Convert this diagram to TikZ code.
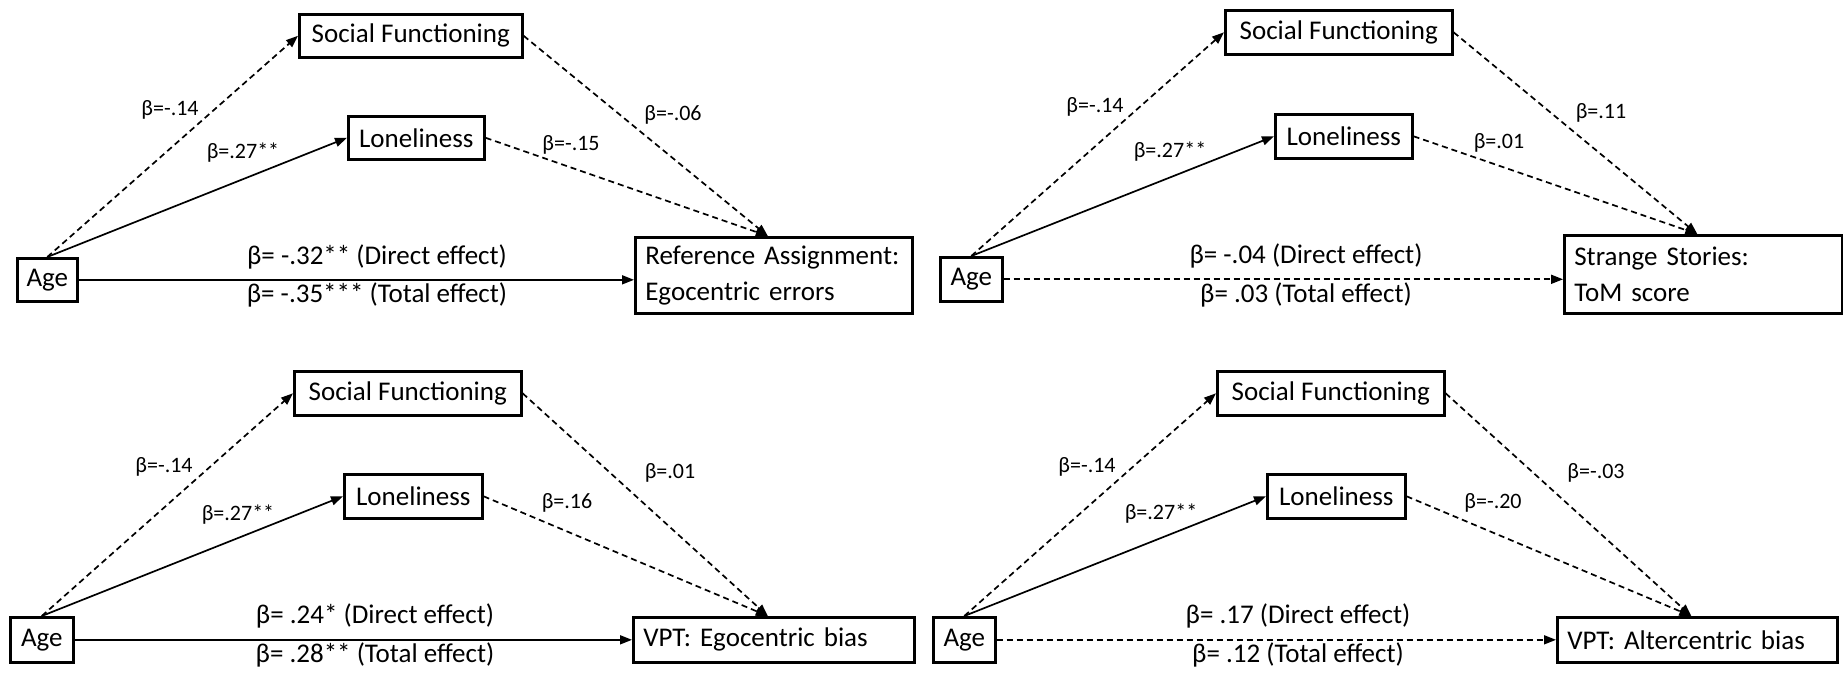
\documentclass[tikz,border=0pt]{standalone}
\usepackage{fontspec}
\setmainfont{Carlito}
\usetikzlibrary{arrows.meta,calc}
\begin{document}
\begin{tikzpicture}[x=1bp,y=-1bp,
  bx/.style={draw,line width=2.6bp,inner sep=0pt,anchor=north west,font=\fontsize{27bp}{36bp}\selectfont},
  bxl/.style={bx,inner xsep=10bp,align=left},
  lab/.style={inner sep=0pt,font=\fontsize{22bp}{26bp}\selectfont},
  eff/.style={inner sep=0pt,font=\fontsize{27bp}{32bp}\selectfont},
  sl/.style={line width=1.7bp,-{Triangle[length=12bp,width=9bp]}},
  dl/.style={sl,dash pattern=on 6bp off 4bp},
]
\useasboundingbox (0,0) rectangle (1843,674);

% ---------- Panel 1 ----------
\node[bx,minimum width=223bp,minimum height=43bp] (sf1) at (298,13) {Social Functioning};
\node[bx,minimum width=136bp,minimum height=43bp] (lo1) at (347,115) {Loneliness};
\node[bx,minimum width=60bp,minimum height=43bp] (ag1) at (16,257) {Age};
\node[bxl,text width=257bp,minimum height=76bp] (ta1) at (634,236) {Reference Assignment:\\Egocentric errors};
\coordinate (c1) at ([xshift=-6bp]ta1.north);
\draw[dl] (ag1.north) -- (sf1.west);
\draw[sl] (ag1.north) -- (lo1.west);
\draw[dl] (sf1.east) -- (c1);
\draw[dl] (lo1.east) -- (c1);
\draw[sl] (ag1.east) -- (ag1.east -| ta1.west);
\node[lab] (l1a) at (170,110) {β=-.14};
\node[lab] (l1b) at (243,153) {β=.27**};
\node[lab] (l1c) at (571,145) {β=-.15};
\node[lab] (l1d) at (673,115) {β=-.06};
\node[eff] (l1e) at (377,257) {β= -.32** (Direct effect)};
\node[eff] (l1f) at (377,295) {β= -.35*** (Total effect)};

% ---------- Panel 2 ----------
\node[bx,minimum width=227bp,minimum height=44bp] (sf2) at (1224,9) {Social Functioning};
\node[bx,minimum width=137bp,minimum height=44bp] (lo2) at (1274,113) {Loneliness};
\node[bx,minimum width=62bp,minimum height=44bp] (ag2) at (939,256) {Age};
\node[bxl,text width=258bp,minimum height=78bp] (ta2) at (1563,234) {Strange Stories:\\ToM score};
\coordinate (c2) at ([xshift=-6bp]ta2.north);
\draw[dl] (ag2.north) -- (sf2.west);
\draw[sl] (ag2.north) -- (lo2.west);
\draw[dl] (sf2.east) -- (c2);
\draw[dl] (lo2.east) -- (c2);
\draw[dl] (ag2.east) -- (ag2.east -| ta2.west);
\node[lab] (l2a) at (1095,107) {β=-.14};
\node[lab] (l2b) at (1170,152) {β=.27**};
\node[lab] (l2c) at (1499,143) {β=.01};
\node[lab] (l2d) at (1601,113) {β=.11};
\node[eff] (l2e) at (1306,256) {β= -.04 (Direct effect)};
\node[eff] (l2f) at (1306,295) {β= .03 (Total effect)};

% ---------- Panel 3 ----------
\node[bx,minimum width=227bp,minimum height=44bp] (sf3) at (293,370) {Social Functioning};
\node[bx,minimum width=138bp,minimum height=44bp] (lo3) at (343,473) {Loneliness};
\node[bx,minimum width=63bp,minimum height=45bp] (ag3) at (9,616) {Age};
\node[bxl,text width=261bp,minimum height=45bp] (ta3) at (632,616) {VPT: Egocentric bias};
\coordinate (c3) at ([xshift=-6bp]ta3.north);
\draw[dl] (ag3.north) -- (sf3.west);
\draw[sl] (ag3.north) -- (lo3.west);
\draw[dl] (sf3.east) -- (c3);
\draw[dl] (lo3.east) -- (c3);
\draw[sl] (ag3.east) -- (ag3.east -| ta3.west);
\node[lab] (l3a) at (164,467) {β=-.14};
\node[lab] (l3b) at (238,515) {β=.27**};
\node[lab] (l3c) at (567,503) {β=.16};
\node[lab] (l3d) at (670,473) {β=.01};
\node[eff] (l3e) at (375,616) {β= .24* (Direct effect)};
\node[eff] (l3f) at (375,655) {β= .28** (Total effect)};

% ---------- Panel 4 ----------
\node[bx,minimum width=227bp,minimum height=44bp] (sf4) at (1216,370) {Social Functioning};
\node[bx,minimum width=138bp,minimum height=44bp] (lo4) at (1266,473) {Loneliness};
\node[bx,minimum width=62bp,minimum height=45bp] (ag4) at (932,616) {Age};
\node[bxl,text width=260bp,minimum height=45bp] (ta4) at (1556,616) {VPT: Altercentric bias};
\coordinate (c4) at ([xshift=-6bp]ta4.north);
\draw[dl] (ag4.north) -- (sf4.west);
\draw[sl] (ag4.north) -- (lo4.west);
\draw[dl] (sf4.east) -- (c4);
\draw[dl] (lo4.east) -- (c4);
\draw[dl] (ag4.east) -- (ag4.east -| ta4.west);
\node[lab] (l4a) at (1087,467) {β=-.14};
\node[lab] (l4b) at (1161,514) {β=.27**};
\node[lab] (l4c) at (1493,503) {β=-.20};
\node[lab] (l4d) at (1596,473) {β=-.03};
\node[eff] (l4e) at (1298,616) {β= .17 (Direct effect)};
\node[eff] (l4f) at (1298,655) {β= .12 (Total effect)};
\end{tikzpicture}
\end{document}
